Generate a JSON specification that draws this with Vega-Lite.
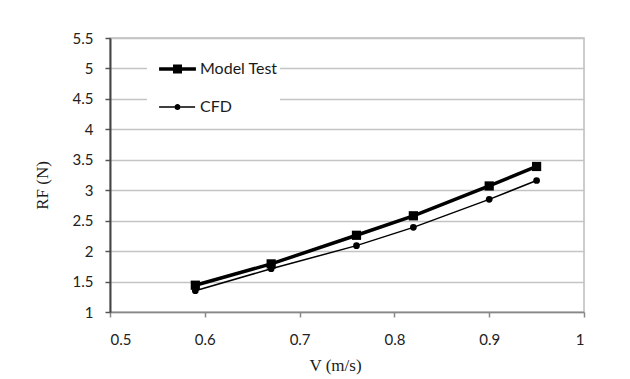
{
  "$schema": "https://vega.github.io/schema/vega-lite/v6.json",
  "width": 474,
  "height": 274,
  "autosize": {"type": "none"},
  "padding": {"left": 110, "top": 38, "right": 46, "bottom": 67},
  "background": "white",
  "config": {
    "view": {"stroke": "#bdbdbd", "strokeWidth": 1.5},
    "axis": {"labelFont": "Lato", "labelFontSize": 15, "labelColor": "#222", "titleFont": "Liberation Serif", "titleFontSize": 17, "titleFontWeight": "normal", "titleColor": "#1a1a1a"}
  },
  "data": {
    "values": [
      {"series": "Model Test", "V": 0.59, "RF": 1.44},
      {"series": "Model Test", "V": 0.67, "RF": 1.79},
      {"series": "Model Test", "V": 0.76, "RF": 2.26},
      {"series": "Model Test", "V": 0.82, "RF": 2.58},
      {"series": "Model Test", "V": 0.90, "RF": 3.07},
      {"series": "Model Test", "V": 0.95, "RF": 3.39},
      {"series": "CFD", "V": 0.59, "RF": 1.35},
      {"series": "CFD", "V": 0.67, "RF": 1.71},
      {"series": "CFD", "V": 0.76, "RF": 2.09},
      {"series": "CFD", "V": 0.82, "RF": 2.39},
      {"series": "CFD", "V": 0.90, "RF": 2.85},
      {"series": "CFD", "V": 0.95, "RF": 3.16}
    ]
  },
  "encoding": {
    "x": {
      "field": "V", "type": "quantitative",
      "scale": {"domain": [0.5, 1], "nice": false, "zero": false},
      "axis": {
        "title": "V (m/s)", "values": [0.5, 0.6, 0.7, 0.8, 0.9, 1], "format": "~g",
        "grid": false, "tickSize": 5, "tickColor": "#888", "tickWidth": 1.5,
        "domainColor": "#888", "domainWidth": 1.5, "labelPadding": 15,
        "titleX": 225, "titlePadding": 10
      }
    },
    "y": {
      "field": "RF", "type": "quantitative",
      "scale": {"domain": [1, 5.5], "nice": false, "zero": false},
      "axis": {
        "title": "RF (N)", "values": [1, 1.5, 2, 2.5, 3, 3.5, 4, 4.5, 5, 5.5], "format": "~g",
        "grid": true, "gridColor": "#c4c4c4", "gridWidth": 1.5,
        "tickSize": 5, "tickColor": "#555", "tickWidth": 1.5,
        "domainColor": "#444", "domainWidth": 2, "labelPadding": 12,
        "titlePadding": 21, "titleY": 147
      }
    }
  },
  "layer": [
    {
      "mark": {"type": "line", "color": "black"},
      "encoding": {
        "detail": {"field": "series", "type": "nominal"},
        "strokeWidth": {
          "condition": {"test": "datum.series === 'Model Test'", "value": 3.5},
          "value": 1.5
        }
      }
    },
    {
      "mark": {"type": "point", "filled": true, "color": "black", "opacity": 1},
      "encoding": {
        "size": {
          "condition": {"test": "datum.series === 'Model Test'", "value": 85},
          "value": 45
        },
        "shape": {
          "condition": {"test": "datum.series === 'Model Test'", "value": "square"},
          "value": "circle"
        }
      }
    },
    {
      "transform": [{"filter": "false"}],
      "mark": {"type": "point", "filled": true, "color": "black", "opacity": 1},
      "encoding": {
        "shape": {
          "field": "series", "type": "nominal",
          "scale": {"domain": ["Model Test", "CFD"], "range": [
            "M-0.67,-0.064H-0.164V0.064H-0.67Z M0.164,-0.064H0.67V0.064H0.164Z M-0.164,-0.164H0.164V0.164H-0.164Z",
            "M-0.67,-0.03H-0.11V0.03H-0.67Z M0.11,-0.03H0.64V0.03H0.11Z M0.11,0A0.11,0.11,0,1,1,-0.11,0A0.11,0.11,0,1,1,0.11,0Z"
          ]},
          "legend": {
            "orient": "none", "legendX": 37, "legendY": 10, "title": null,
            "fillColor": "white", "padding": 2,
            "symbolSize": 3025, "symbolFillColor": "black",
            "labelFont": "Lato", "labelFontSize": 16, "labelColor": "#1a1a1a",
            "labelOffset": -6, "rowPadding": 0, "clipHeight": 38
          }
        }
      }
    }
  ]
}
